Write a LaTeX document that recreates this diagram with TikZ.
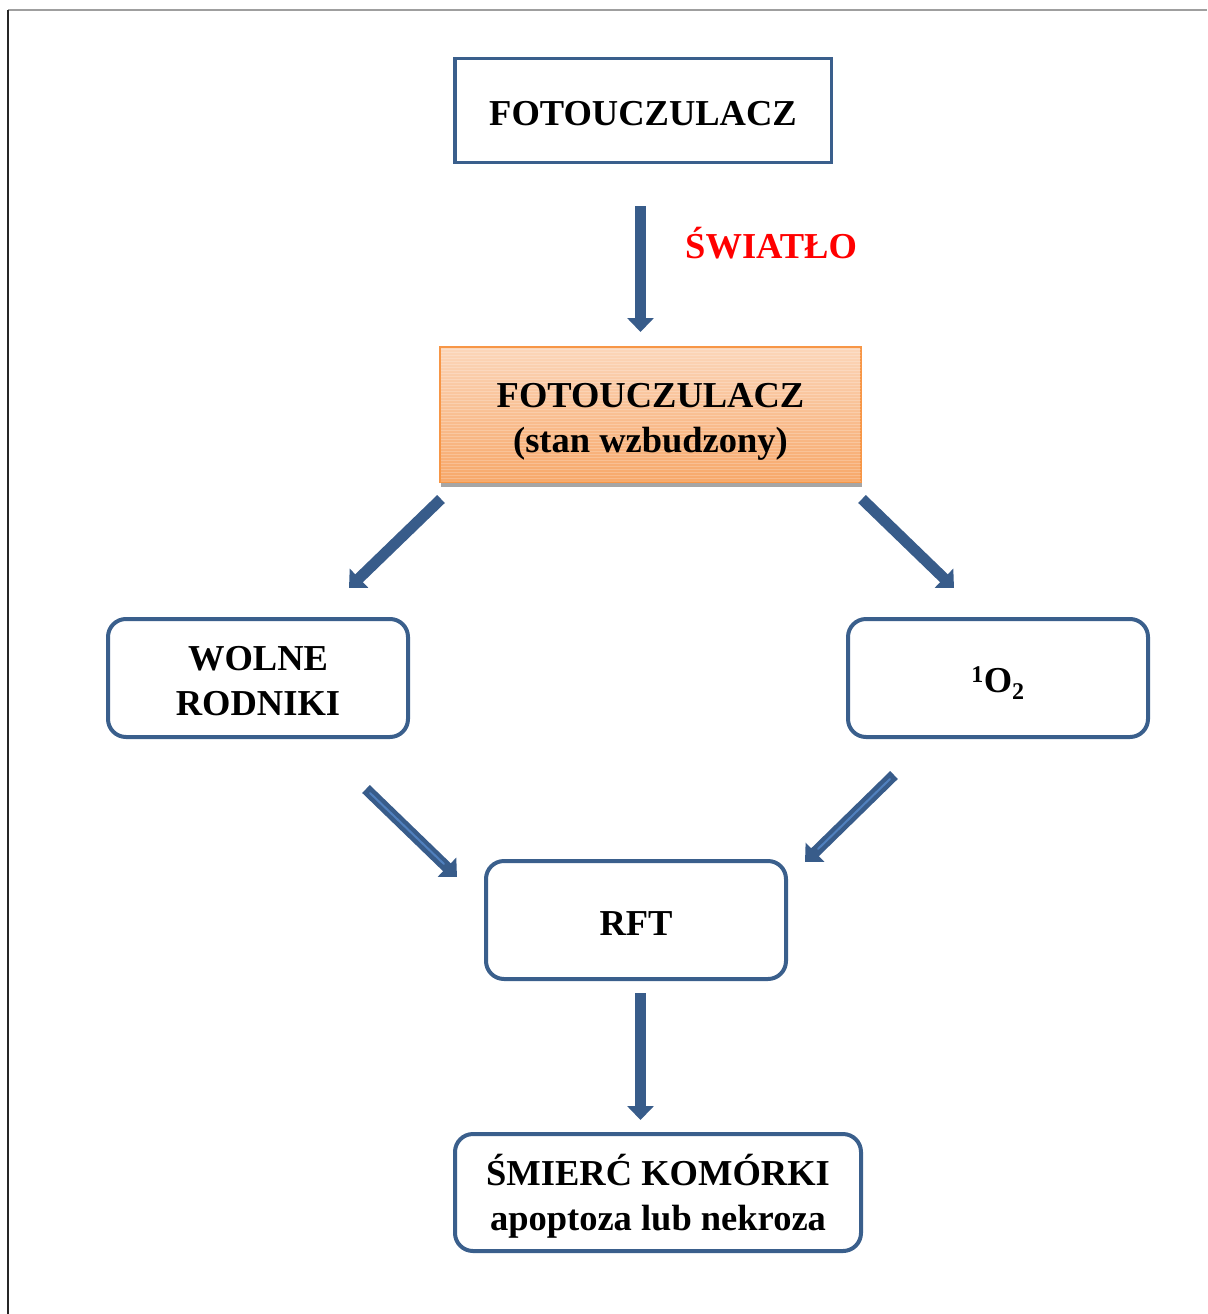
\documentclass[tikz,border=0pt]{standalone}
\usepackage{fontspec}
\setmainfont{Liberation Serif}
\usetikzlibrary{arrows.meta,calc}
\definecolor{boxblue}{RGB}{58,95,140}
\definecolor{arrblue}{RGB}{56,92,138}
\definecolor{arrlight}{RGB}{80,128,190}
\definecolor{orbord}{RGB}{247,150,70}
\definecolor{ortop}{RGB}{251,214,186}
\definecolor{orbot}{RGB}{247,168,106}
\newcommand\lowtxt[2]{\raisebox{-#1}[\height][\depth]{\begin{tabular}{@{}c@{}}#2\end{tabular}}}
\tikzset{
  txt/.style={font=\fontsize{36.5}{45}\selectfont\bfseries, align=center, inner sep=0pt},
  sqbox/.style={txt, draw=boxblue, line width=3.5pt, fill=white},
  rbox/.style={txt, draw=boxblue, line width=4pt, rounded corners=18pt, fill=white},
  excbox/.style={txt, draw=orbord, line width=2pt, top color=ortop, bottom color=orbot},
  barrow/.style={draw=arrblue, line width=11pt, -{Triangle[width=26pt,length=14pt]}},
  hilite/.style={draw=arrlight, line width=2pt, line cap=round},
}
\begin{document}
\begin{tikzpicture}[x=1pt,y=-1pt]
\useasboundingbox (0,0) rectangle (1207,1314);
% page frame lines
\draw[gray!75, line width=2pt] (8,10) -- (1207,10);
\draw[black!85, line width=2.5pt] (8,10) -- (8,1314);

% nodes
\node[sqbox, minimum width=376.5pt, minimum height=103.5pt] (top) at (643,110.5) {\lowtxt{6.5pt}{FOTOUCZULACZ}};
\fill[gray!70] (441,480) rectangle (862,487);
\node[excbox, minimum width=421pt, minimum height=135pt] (exc) at (650.5,414.5) {};
\foreach \k in {0,...,44}
  \draw[white, opacity=0.22, line width=1pt] (441,{349+3*\k}) -- (861,{349+3*\k});
\node[txt] (exctext) at (exc.center) {\lowtxt{6pt}{FOTOUCZULACZ\\(stan wzbudzony)}};
\node[rbox, minimum width=300pt, minimum height=118pt] (wolne) at (258,678) {\lowtxt{6pt}{WOLNE\\RODNIKI}};
\node[rbox, minimum width=300pt, minimum height=118pt] (tlen) at (998,678) {\lowtxt{5pt}{\textsuperscript{\fontsize{24}{24}\selectfont 1}O\textsubscript{\fontsize{24}{24}\selectfont 2}}};
\node[rbox, minimum width=300pt, minimum height=118pt] (rft) at (636,920) {\lowtxt{6pt}{RFT}};
\node[rbox, minimum width=406pt, minimum height=117pt] (smierc) at (658,1192.5) {\lowtxt{6.5pt}{ŚMIERĆ KOMÓRKI\\apoptoza lub nekroza}};
\node[txt, text=red, anchor=base west] (swiatlo) at (685,258) {ŚWIATŁO};

% arrows
\draw[barrow] ($(top.south)+(-2.5,42)$) -- ($(exc.north)+(-10,-14)$);
\draw[barrow] ($(exc.south west)+(2,16)$) -- ($(wolne.north)+(91,-29)$);
\draw[barrow] ($(exc.south east)+(0,16)$) -- ($(tlen.north)+(-44,-29)$);
\draw[barrow] ($(wolne.south)+(108,50)$) -- ($(rft.north west)+(-27,18)$);
\draw[hilite] ($(wolne.south)+(112,54)$) -- ($(rft.north west)+(-40,5)$);
\draw[barrow] ($(tlen.south)+(-104,36)$) -- ($(rft.north east)+(17,3)$);
\draw[hilite] ($(tlen.south)+(-108,40)$) -- ($(rft.north east)+(30,-10)$);
\draw[barrow] ($(rft.south)+(4.5,12)$) -- ($(smierc.north)+(-17.5,-12)$);
\end{tikzpicture}
\end{document}
